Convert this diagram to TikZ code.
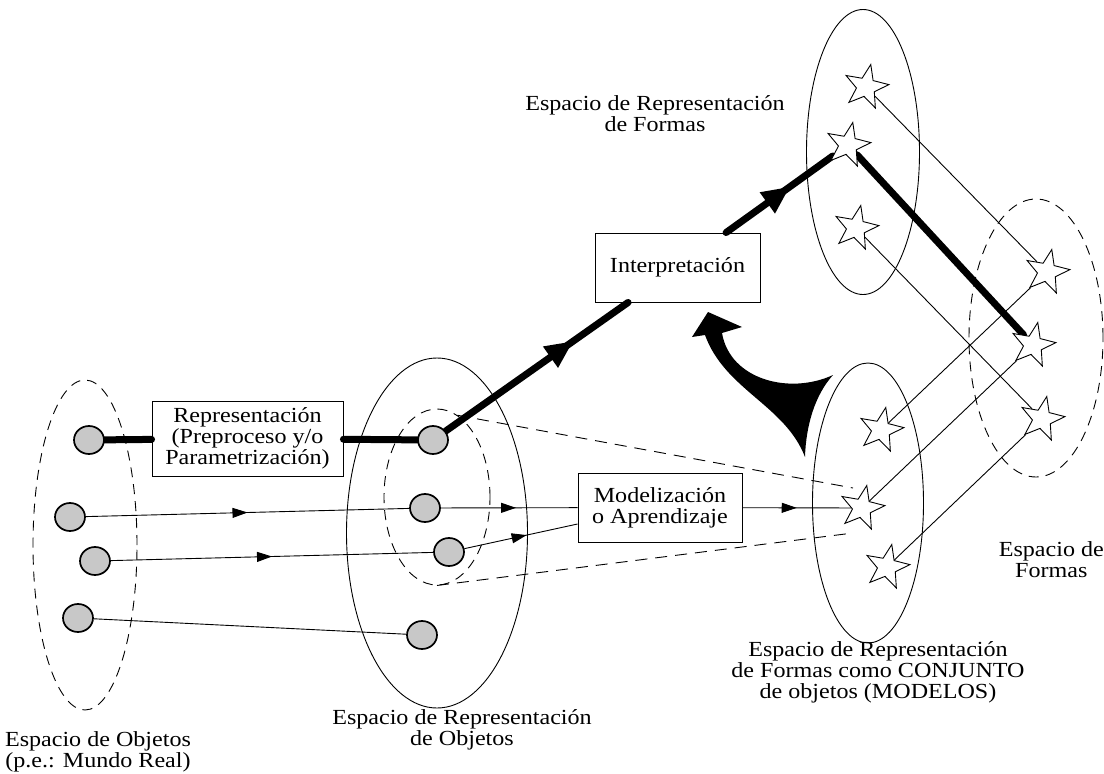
\documentclass[tikz,border=0pt]{standalone}
\usepackage{fontspec}
\setmainfont{Liberation Serif}[FakeStretch=1.12]
\usetikzlibrary{shapes.geometric,arrows.meta,decorations.markings}
\definecolor{circgray}{RGB}{200,200,200}
\newcommand\lblfont{\fontsize{21.5}{21}\selectfont}
\pgfdeclarelayer{bg}
\pgfsetlayers{bg,main}
\tikzset{
  obj/.style={ellipse, draw, line width=1.7pt, fill=circgray, minimum width=30pt, minimum height=28pt, inner sep=0pt},
  starnode/.style={star, star points=5, star point ratio=2.4, draw, line width=0.9pt, minimum size=46pt, inner sep=0pt, shape border rotate=-12, fill=white},
  region/.style={ellipse, draw, line width=0.9pt, inner sep=0pt},
  dregion/.style={region, dash pattern=on 10pt off 7pt},
  procbox/.style={draw, line width=0.9pt, align=center, inner sep=0pt, font=\lblfont},
  lbl/.style={align=center, font=\lblfont, inner sep=0pt},
  fine/.style={line width=0.9pt},
  heavy/.style={line width=7pt, line cap=round},
  dline/.style={line width=0.9pt, dash pattern=on 12pt off 8pt},
  midarrow/.style={postaction={decorate,decoration={markings,mark=at position #1 with {\arrow{Triangle[length=15pt,width=10pt]}}}}},
  bigarrow/.style={postaction={decorate,decoration={markings,mark=at position #1 with {\arrow{Triangle[length=28pt,width=24pt]}}}}}
}
\begin{document}
\begin{tikzpicture}[x=1pt,y=-1pt]
\useasboundingbox (0,0) rectangle (1104,774);
% regions
\node[dregion, minimum width=104pt, minimum height=330pt] (objsp) at (85,545) {};
\node[region, minimum width=181pt, minimum height=350pt] (repsp) at (437,533) {};
\node[dregion, minimum width=106pt, minimum height=176pt] (inner) at (437,497) {};
\node[region, minimum width=113pt, minimum height=285pt] (formsp) at (863,152) {};
\node[region, minimum width=111pt, minimum height=280pt] (modsp) at (868,503) {};
\node[dregion, minimum width=134pt, minimum height=278pt] (fsp) at (1036,338) {};
% objects
\node[obj] (c1) at (89,440) {};
\node[obj] (c2) at (70,517) {};
\node[obj] (c3) at (95,561) {};
\node[obj] (c4) at (78,618) {};
\node[obj] (m1) at (433,440) {};
\node[obj] (m2) at (425,508) {};
\node[obj] (m3) at (449,552) {};
\node[obj] (m4) at (422,635) {};
% boxes
\node[procbox, minimum width=191pt, minimum height=75pt] (rep) at (247.5,438.5) {Representación\\(Preproceso y/o\\Parametrización)};
\node[procbox, minimum width=165pt, minimum height=69pt] (interp) at (677.5,267.5) {Interpretación};
\node[procbox, minimum width=164pt, minimum height=69pt] (model) at (660,507.5) {Modelización\\o Aprendizaje};
% stars
\node[starnode] (T1) at (866,87) {};
\node[starnode] (T2) at (848,145) {};
\node[starnode] (T3) at (856,228) {};
\node[starnode] (R1) at (1047,272) {};
\node[starnode] (R2) at (1033,345) {};
\node[starnode] (R3) at (1042,419) {};
\node[starnode] (B1) at (881,430) {};
\node[starnode] (B2) at (862,508) {};
\node[starnode] (B3) at (887,567) {};
\coordinate (dU) at (853,488);
\coordinate (dL) at (853,533);
% labels
\node[lbl] (lobj) at (98,752) {Espacio de Objetos\\(p.e.: Mundo Real)};
\node[lbl] (lrep) at (462,730) {Espacio de Representación\\de Objetos};
\node[lbl] (lmod) at (878,672) {Espacio de Representación\\de Formas como CONJUNTO\\de objetos (MODELOS)};
\node[lbl] (ltop) at (655,114) {Espacio de Representación\\de Formas};
\node[lbl, anchor=east] (lfor) at (1104,560) {Espacio de\\Formas};
% connectors
\begin{pgfonlayer}{bg}
\draw[heavy] (c1) -- (rep);
\draw[heavy] (rep) -- (m1);
\draw[heavy, bigarrow=0.7] (m1) -- (interp);
\draw[heavy, bigarrow=0.6] (interp) -- (T2);
\draw[heavy] (T2) -- (R2);
\draw[fine, midarrow=0.5] (c2) -- (m2);
\draw[fine, midarrow=0.5] (c3) -- (m3);
\draw[fine] (c4) -- (m4);
\draw[fine, midarrow=0.55] (m2) -- (model);
\draw[fine, midarrow=0.55] (m3) -- ([yshift=-16.5pt]model.west);
\draw[fine, midarrow=0.5] (model) -- (B2);
\draw[dline] (inner.76) -- (dU);
\draw[dline] (inner.south) -- (dL);
\draw[fine] (T1) -- (R1);
\draw[fine] (T3) -- (R3);
\draw[fine] (B1) -- (R1);
\draw[fine] (B2) -- (R2);
\draw[fine] (B3) -- (R3);
\end{pgfonlayer}
% big curved arrow
\fill (708,312) -- (742,327) -- (722,333)
  .. controls (730,380) and (790,395) .. (833,375)
  .. controls (815,395) and (806,425) .. (805,457)
  .. controls (785,405) and (725,390) .. (705,335)
  -- (692,337) -- cycle;
\end{tikzpicture}
\end{document}
